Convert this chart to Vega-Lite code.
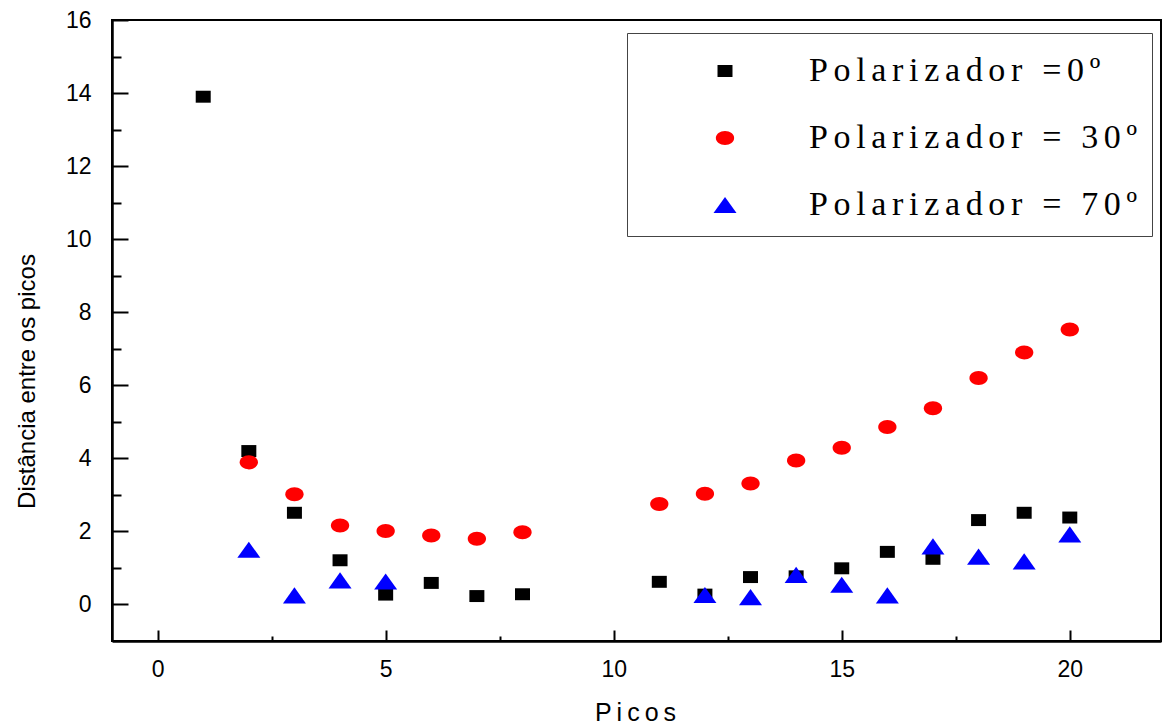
{
  "$schema": "https://vega.github.io/schema/vega-lite/v6.json",
  "width": 1049,
  "height": 621,
  "autosize": {"type": "none"},
  "padding": {"left": 112, "top": 20, "right": 1, "bottom": 86},
  "background": "white",
  "config": {
    "view": {"stroke": "#000000", "strokeWidth": 2},
    "axis": {"grid": false}
  },
  "data": {
    "values": [
      {"series": "Polarizador =0º", "pico": 1, "dist": 13.9},
      {"series": "Polarizador =0º", "pico": 2, "dist": 4.2},
      {"series": "Polarizador =0º", "pico": 3, "dist": 2.51},
      {"series": "Polarizador =0º", "pico": 4, "dist": 1.21},
      {"series": "Polarizador =0º", "pico": 5, "dist": 0.27},
      {"series": "Polarizador =0º", "pico": 6, "dist": 0.59},
      {"series": "Polarizador =0º", "pico": 7, "dist": 0.23},
      {"series": "Polarizador =0º", "pico": 8, "dist": 0.28},
      {"series": "Polarizador =0º", "pico": 11, "dist": 0.62},
      {"series": "Polarizador =0º", "pico": 12, "dist": 0.27},
      {"series": "Polarizador =0º", "pico": 13, "dist": 0.75},
      {"series": "Polarizador =0º", "pico": 14, "dist": 0.77},
      {"series": "Polarizador =0º", "pico": 15, "dist": 0.99},
      {"series": "Polarizador =0º", "pico": 16, "dist": 1.44},
      {"series": "Polarizador =0º", "pico": 17, "dist": 1.25},
      {"series": "Polarizador =0º", "pico": 18, "dist": 2.31},
      {"series": "Polarizador =0º", "pico": 19, "dist": 2.51},
      {"series": "Polarizador =0º", "pico": 20, "dist": 2.38},
      {"series": "Polarizador = 30º", "pico": 2, "dist": 3.89},
      {"series": "Polarizador = 30º", "pico": 3, "dist": 3.02},
      {"series": "Polarizador = 30º", "pico": 4, "dist": 2.16},
      {"series": "Polarizador = 30º", "pico": 5, "dist": 2.01},
      {"series": "Polarizador = 30º", "pico": 6, "dist": 1.89},
      {"series": "Polarizador = 30º", "pico": 7, "dist": 1.8},
      {"series": "Polarizador = 30º", "pico": 8, "dist": 1.98},
      {"series": "Polarizador = 30º", "pico": 11, "dist": 2.75},
      {"series": "Polarizador = 30º", "pico": 12, "dist": 3.03},
      {"series": "Polarizador = 30º", "pico": 13, "dist": 3.31},
      {"series": "Polarizador = 30º", "pico": 14, "dist": 3.94},
      {"series": "Polarizador = 30º", "pico": 15, "dist": 4.29},
      {"series": "Polarizador = 30º", "pico": 16, "dist": 4.86},
      {"series": "Polarizador = 30º", "pico": 17, "dist": 5.37},
      {"series": "Polarizador = 30º", "pico": 18, "dist": 6.2},
      {"series": "Polarizador = 30º", "pico": 19, "dist": 6.9},
      {"series": "Polarizador = 30º", "pico": 20, "dist": 7.53},
      {"series": "Polarizador = 70º", "pico": 2, "dist": 1.5},
      {"series": "Polarizador = 70º", "pico": 3, "dist": 0.25},
      {"series": "Polarizador = 70º", "pico": 4, "dist": 0.66},
      {"series": "Polarizador = 70º", "pico": 5, "dist": 0.63},
      {"series": "Polarizador = 70º", "pico": 12, "dist": 0.26},
      {"series": "Polarizador = 70º", "pico": 13, "dist": 0.2},
      {"series": "Polarizador = 70º", "pico": 14, "dist": 0.81},
      {"series": "Polarizador = 70º", "pico": 15, "dist": 0.54},
      {"series": "Polarizador = 70º", "pico": 16, "dist": 0.25},
      {"series": "Polarizador = 70º", "pico": 17, "dist": 1.59},
      {"series": "Polarizador = 70º", "pico": 18, "dist": 1.31},
      {"series": "Polarizador = 70º", "pico": 19, "dist": 1.18},
      {"series": "Polarizador = 70º", "pico": 20, "dist": 1.92}
    ]
  },
  "resolve": {"axis": {"x": "independent", "y": "independent"}},
  "layer": [
    {
      "mark": {"type": "point", "filled": true, "opacity": 1, "size": 529, "strokeWidth": 0},
      "encoding": {
        "x": {
          "field": "pico", "type": "quantitative",
          "scale": {"domain": [-1, 22], "nice": false, "zero": false},
          "axis": {
            "orient": "bottom",
            "values": [0, 5, 10, 15, 20],
            "domainColor": "#000000", "domainWidth": 2.5,
            "tickColor": "#000000", "tickWidth": 2, "tickSize": -11,
            "labelFont": "Liberation Sans", "labelFontSize": 23, "labelColor": "#000000",
            "labelPadding": 28, "labelBaseline": "top",
            "title": "P\u2009i\u2009c\u2009o\u2009s",
            "titleFont": "Liberation Sans", "titleFontSize": 25, "titleFontWeight": "normal", "titleColor": "#000000",
            "titleX": 523, "titleY": 79, "titleAlign": "center", "titleBaseline": "alphabetic"
          }
        },
        "y": {
          "field": "dist", "type": "quantitative",
          "scale": {"domain": [-1, 16], "nice": false, "zero": false},
          "axis": {
            "orient": "left",
            "values": [0, 2, 4, 6, 8, 10, 12, 14, 16],
            "domainColor": "#000000", "domainWidth": 2.5,
            "tickColor": "#000000", "tickWidth": 2, "tickSize": -16,
            "labelFont": "Liberation Sans", "labelFontSize": 23, "labelColor": "#000000",
            "labelPadding": 37,
            "title": "Distância entre os picos",
            "titleFont": "Liberation Sans", "titleFontSize": 24, "titleFontWeight": "normal", "titleColor": "#000000",
            "titleAngle": -90, "titleX": -78, "titleY": 361, "titleAlign": "center", "titleBaseline": "alphabetic"
          }
        },
        "color": {
          "field": "series", "type": "nominal",
          "scale": {
            "domain": ["Polarizador =0º", "Polarizador = 30º", "Polarizador = 70º"],
            "range": ["#000000", "#ff0000", "#0000ff"]
          },
          "legend": {
            "orient": "none", "legendX": 515, "legendY": 13,
            "title": "\u00a0", "titleFontSize": 4, "titlePadding": 3,
            "fillColor": "#ffffff", "strokeColor": "#444444",
            "padding": 14, "symbolOffset": 67, "labelOffset": 67, "rowPadding": 33,
            "symbolSize": 529, "symbolStrokeWidth": 0,
            "labelFont": "Liberation Serif", "labelFontSize": 34, "labelColor": "#000000", "labelLimit": 0,
            "labelExpr": "join(split(datum.label, ''), '\u2006')"
          }
        },
        "shape": {
          "field": "series", "type": "nominal",
          "scale": {
            "domain": ["Polarizador =0º", "Polarizador = 30º", "Polarizador = 70º"],
            "range": [
              "M-0.652,-0.52H0.652V0.52H-0.652Z",
              "M-0.796,0A0.796,0.61 0 1,0 0.796,0A0.796,0.61 0 1,0 -0.796,0Z",
              "M0,-0.7L1,0.7L-1,0.7Z"
            ]
          }
        }
      }
    },
    {
      "mark": {"type": "point", "opacity": 0},
      "encoding": {
        "x": {
          "field": "pico", "type": "quantitative",
          "axis": {
            "orient": "bottom", "values": [2.5, 7.5, 12.5, 17.5],
            "domain": false, "labels": false, "title": null,
            "tickColor": "#000000", "tickWidth": 2, "tickSize": -5
          }
        },
        "y": {
          "field": "dist", "type": "quantitative",
          "axis": {
            "orient": "left", "values": [1, 3, 5, 7, 9, 11, 13, 15],
            "domain": false, "labels": false, "title": null,
            "tickColor": "#000000", "tickWidth": 2, "tickSize": -9
          }
        }
      }
    }
  ]
}
